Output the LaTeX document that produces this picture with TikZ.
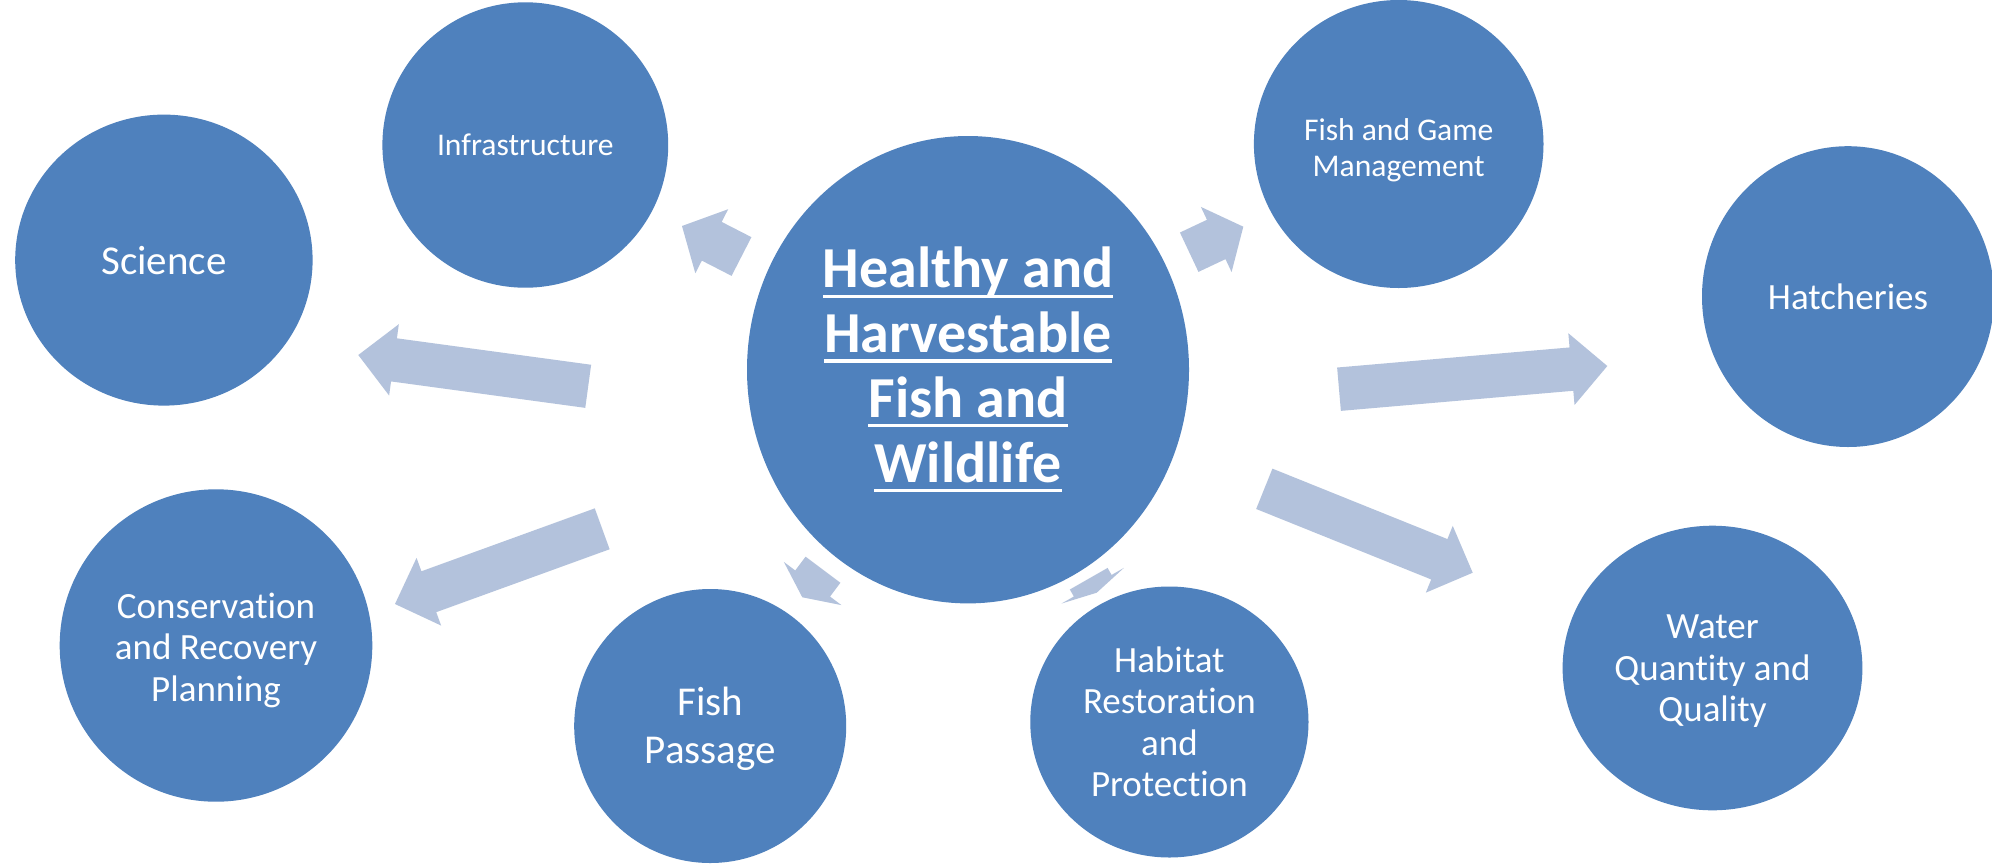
\documentclass[tikz,border=0pt]{standalone}
\usepackage{fontspec}
\setmainfont{Carlito}[Ligatures=NoCommon]
\usetikzlibrary{shapes.geometric,calc}
\definecolor{bubble}{HTML}{4F81BD}
\definecolor{arrowc}{HTML}{B3C2DC}
\newcommand\hubline[1]{\setbox0=\hbox{#1}\rlap{\rule[-10pt]{\wd0}{3.3pt}}\box0}
\newcommand\blockarrow[2]{%
  \fill[arrowc] let \p1=(#1), \p2=(#2),
    \n1={atan2(\y2-\y1,\x2-\x1)},
    \n2={veclen(\x2-\x1,\y2-\y1)},
    \n3={min(0.5*\n2,36)},
    \n4={\n2-\n3} in
    ($(\p1)+(\n1+90:21.75pt)$) --
    ($(\p1)+(\n1:\n4)+(\n1+90:21.75pt)$) --
    ($(\p1)+(\n1:\n4)+(\n1+90:36pt)$) --
    (\p2) --
    ($(\p1)+(\n1:\n4)+(\n1-90:36pt)$) --
    ($(\p1)+(\n1:\n4)+(\n1-90:21.75pt)$) --
    ($(\p1)+(\n1-90:21.75pt)$) -- cycle;}
\tikzset{
  bub/.style={ellipse, fill=bubble, text=white, inner sep=0pt, align=center},
  big/.style={font={\fontsize{41}{48}\selectfont}},
  mid/.style={font={\fontsize{37}{41.5}\selectfont}},
  small/.style={font={\fontsize{31.6}{35.6}\selectfont}},
}
\begin{document}
\begin{tikzpicture}[x=1pt,y=-1pt]
\fill[white] (0,0) rectangle (1992,863);
\useasboundingbox (0,0) rectangle (1992,863);
% arrow end points
\coordinate (a1s) at (741.5,256.5);  \coordinate (a1e) at (682,226);
\coordinate (a2s) at (1189.2,252.2); \coordinate (a2e) at (1243.3,226.7);
\coordinate (a3s) at (823,569.7);    \coordinate (a3e) at (802.3,597.3);
\coordinate (a4s) at (1088.7,578.7); \coordinate (a4e) at (1096.7,592.7);
\coordinate (a5s) at (588.2,386.3);  \coordinate (a5e) at (358.3,355);
\coordinate (a6s) at (1339,389.2);   \coordinate (a6e) at (1607.3,366);
\coordinate (a7s) at (602.2,528.8);  \coordinate (a7e) at (395,604);
\coordinate (a8s) at (1264.3,488.8); \coordinate (a8e) at (1472.7,572.7);
\blockarrow{a1s}{a1e}
\blockarrow{a2s}{a2e}
\blockarrow{a3s}{a3e}
\blockarrow{a4s}{a4e}
\blockarrow{a5s}{a5e}
\blockarrow{a6s}{a6e}
\blockarrow{a7s}{a7e}
\blockarrow{a8s}{a8e}
% circles
\node[bub, minimum width=442pt, minimum height=467.4pt,
      font={\fontsize{58}{64.8}\selectfont\bfseries}] (hub) at (968,369.7)
  {\hubline{Healthy and}\\\hubline{Harvestable}\\\hubline{Fish and}\\\hubline{Wildlife}};
\node[bub, big, minimum width=297.4pt, minimum height=291pt] (sci) at (163.9,260.1) {Science};
\node[bub, small, minimum width=285.8pt, minimum height=285.4pt] (inf) at (525.3,145) {Infrastructure};
\node[bub, small, minimum width=289.6pt, minimum height=288pt, text height=70.5pt] (fgm) at (1398.7,144) {Fish and Game\\Management};
\node[bub, mid, minimum width=292pt, minimum height=300.8pt] (hat) at (1848,296.6) {Hatcheries};
\node[bub, mid, minimum width=312.6pt, minimum height=312.4pt, text height=117.9pt] (con) at (216,645.5) {Conservation\\and Recovery\\Planning};
\node[bub, big, minimum width=272pt, minimum height=274pt, text height=81.7pt] (fp) at (710.2,726) {Fish\\Passage};
\node[bub, mid, minimum width=278.2pt, minimum height=271pt] (hab) at (1169.4,722) {Habitat\\Restoration\\and\\Protection};
\node[bub, mid, minimum width=299.8pt, minimum height=284.6pt, text height=113.9pt] (wat) at (1712.5,668) {Water\\Quantity and\\Quality};
\end{tikzpicture}
\end{document}
